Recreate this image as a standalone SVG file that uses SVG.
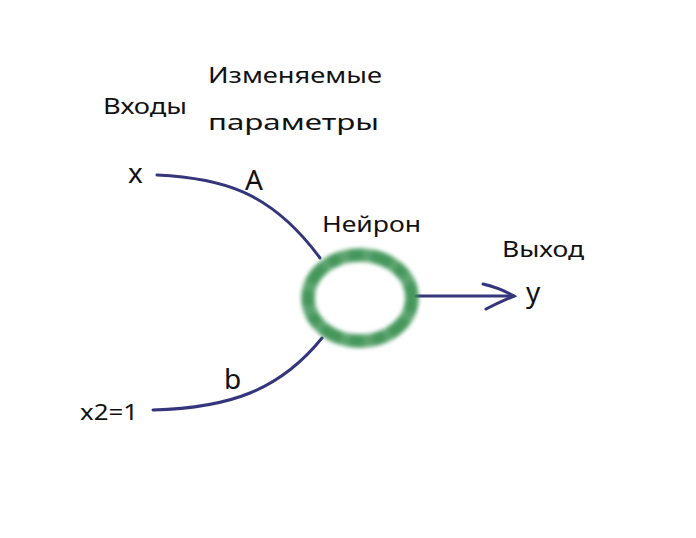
<svg xmlns="http://www.w3.org/2000/svg" width="696" height="538" viewBox="0 0 696 538">
<style>
.t{font-family:"Noto Sans","DejaVu Sans",sans-serif;fill:#111;font-size:22px}
.big{font-size:28px}
.c{fill:none;stroke:#34357a;stroke-width:3;stroke-linecap:round}
</style>
<defs>
<filter id="blur" x="-20%" y="-20%" width="140%" height="140%"><feGaussianBlur stdDeviation="2.2"/></filter>
</defs>
<rect width="696" height="538" fill="#fff"/>
<g id="labels">
<text class="t" x="103" y="114" textLength="84" lengthAdjust="spacingAndGlyphs">Входы</text>
<text class="t" x="208" y="83" textLength="174" lengthAdjust="spacingAndGlyphs">Изменяемые</text>
<text class="t" x="208" y="130" textLength="171" lengthAdjust="spacingAndGlyphs">параметры</text>
</g>
<g id="connectors">
<path class="c" d="M157,175 C220,178 270,190 320,258"/>
<path class="c" d="M153,410 C230,408 280,390 322,338"/>
<path class="c" d="M416,296 L514,296"/>
<path class="c" d="M483,284 Q500,288 514,296 Q500,302 486,309"/>
</g>
<g id="input-x">
<text class="t big" x="128" y="183">x</text>
</g>
<g id="param-A">
<text class="t big" x="245" y="190">A</text>
</g>
<g id="input-x2">
<text class="t" x="80" y="420" font-size="20" textLength="58" lengthAdjust="spacingAndGlyphs">x2=1</text>
</g>
<g id="param-b">
<text class="t big" x="224" y="389">b</text>
</g>
<g id="neuron">
<ellipse cx="360" cy="298" rx="52" ry="43" fill="none" stroke="#3f9457" stroke-width="13" filter="url(#blur)" opacity="0.85"/>
<ellipse cx="360" cy="298" rx="52" ry="43" fill="none" stroke="#2f8a4a" stroke-width="10" stroke-dasharray="14 9 20 7 11 10" filter="url(#blur)" opacity="0.5"/>
<text class="t" x="322" y="232" textLength="99" lengthAdjust="spacingAndGlyphs">Нейрон</text>
</g>
<g id="output">
<text class="t" x="502" y="257" textLength="82" lengthAdjust="spacingAndGlyphs">Выход</text>
<text class="t big" x="526" y="302">y</text>
</g>
</svg>
